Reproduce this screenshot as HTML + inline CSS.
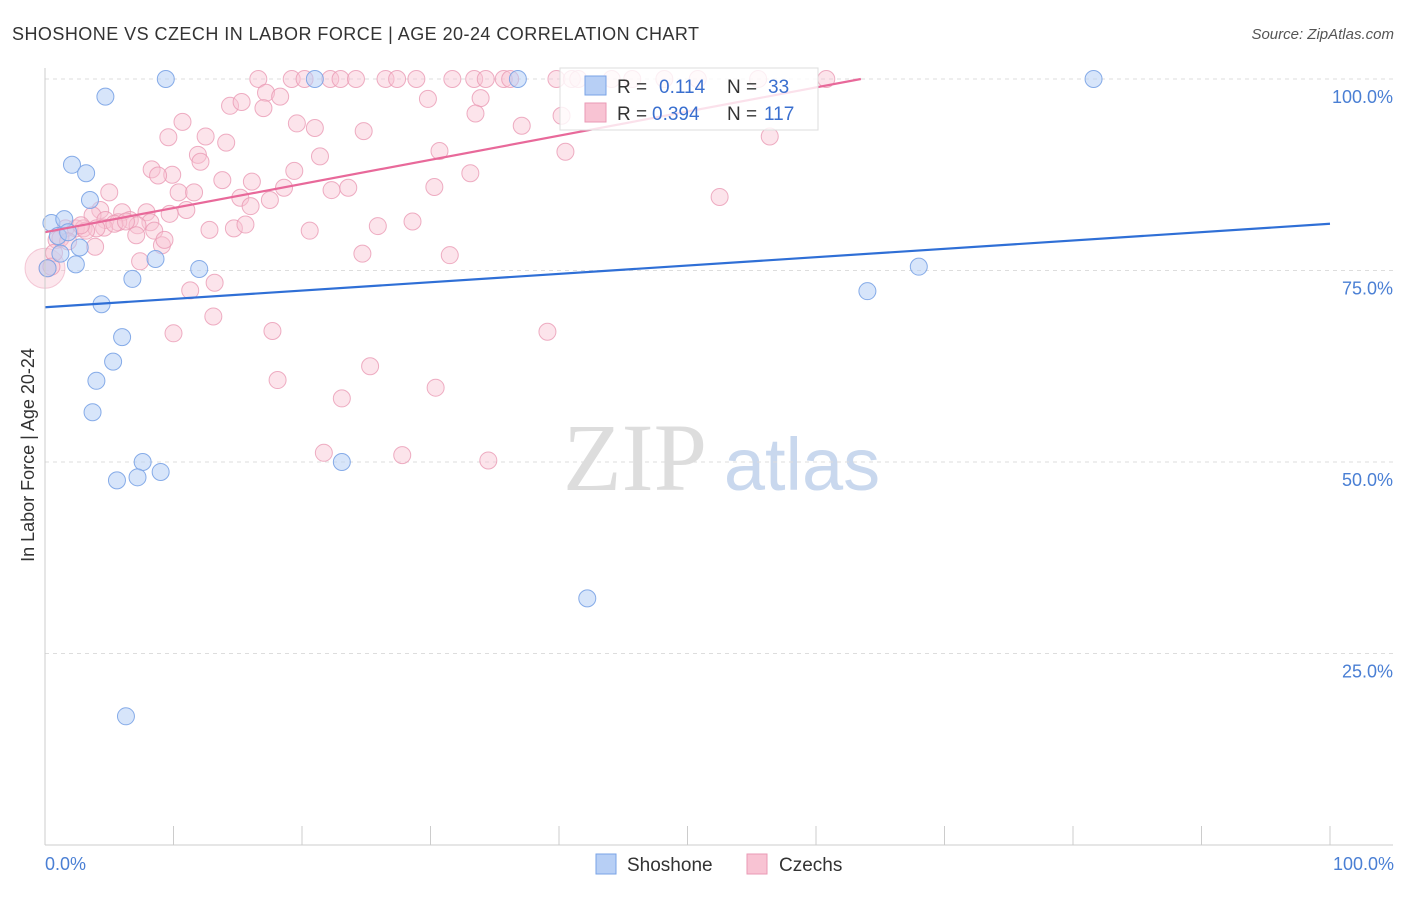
<!DOCTYPE html>
<html><head><meta charset="utf-8"><style>
body{margin:0;background:#fff;font-family:"Liberation Sans",sans-serif;}
</style></head><body>
<svg id="c" width="1406" height="892" xmlns="http://www.w3.org/2000/svg">
<text x="12" y="40" font-size="18" fill="#333" textLength="687">SHOSHONE VS CZECH IN LABOR FORCE | AGE 20-24 CORRELATION CHART</text>
<text x="1394" y="39" font-size="15" fill="#555" font-style="italic" text-anchor="end">Source: ZipAtlas.com</text>
<text x="34" y="455" font-size="18" fill="#333" transform="rotate(-90 34 455)" text-anchor="middle">In Labor Force | Age 20-24</text>
<text x="635" y="490" font-size="96" fill="#ddd" font-family="Liberation Serif,serif" text-anchor="middle">ZIP</text>
<text x="802" y="490" font-size="74" fill="#c9d8ee" text-anchor="middle">atlas</text>
<g id="grid"></g><g id="pts"></g><g id="lines"></g>
<line x1="45" y1="68" x2="45" y2="845" stroke="#ccc"/>
<line x1="45" y1="845" x2="1393" y2="845" stroke="#ccc"/>
<text x="45" y="870" font-size="18" fill="#4a7fd4">0.0%</text>
<text x="1394" y="870" font-size="18" fill="#4a7fd4" text-anchor="end">100.0%</text>
<g>
<rect x="560" y="68" width="258" height="62" fill="#fff" fill-opacity="0.8" stroke="#ddd"/>
<rect x="585" y="76" width="21" height="19" fill="#b7cff5" stroke="#7aa3e6"/>
<rect x="585" y="103" width="21" height="19" fill="#f8c3d3" stroke="#ea9ab4"/>
<text x="617" y="93" font-size="19" fill="#333">R = <tspan fill="#3a6fcf" x="659">0.114</tspan><tspan fill="#333" x="727">N = </tspan><tspan fill="#3a6fcf" x="768">33</tspan></text>
<text x="617" y="120" font-size="19" fill="#333">R = <tspan fill="#3a6fcf" x="652">0.394</tspan><tspan fill="#333" x="727">N = </tspan><tspan fill="#3a6fcf" x="764">117</tspan></text>
</g>
<g>
<rect x="596" y="854" width="20" height="20" fill="#b7cff5" stroke="#7aa3e6"/>
<text x="627" y="871" font-size="19" fill="#333">Shoshone</text>
<rect x="747" y="854" width="20" height="20" fill="#f8c3d3" stroke="#ea9ab4"/>
<text x="779" y="871" font-size="19" fill="#333">Czechs</text>
</g>
</svg>
<script>
const yTicks=[25,50,75,100];
const yTickLabels=["25.0%","50.0%","75.0%","100.0%"];
const shoshoneX=[9.4,21,36.8,81.6,4.7,2.1,3.2,3.5,0.5,1.5,1,1.8,1.2,2.4,0.2,2.7,6.8,8.6,12,4.4,6,5.3,4,3.7,7.6,9,5.6,7.2,23.1,42.2,6.3,64,68];
const shoshoneY=[100,100,100,100,97.7,88.8,87.7,84.2,81.2,81.7,79.5,80,77.2,75.8,75.3,78,73.9,76.5,75.2,70.6,66.3,63.1,60.6,56.5,50,48.7,47.6,48,50,32.2,16.8,72.3,75.5];
const czechX=[16.6,19.2,20.2,22.2,23,24.2,26.5,27.4,28.9,31.7,33.4,34.3,35.7,36.2,39.8,41,41.5,44.1,45.7,48.2,50.8,55.5,60.8,17.2,18.3,29.8,33.9,14.4,15.3,17,33.5,40.2,10.7,19.6,21,24.8,37.1,12.5,9.6,14.1,11.9,12.1,21.4,30.7,40.5,56.4,8.3,9.9,8.8,19.4,33.1,13.8,16.1,5,10.4,11.6,18.6,22.3,23.6,30.3,52.5,15.2,17.5,16,4.3,6,7.9,11,9.7,3.7,4.7,6.6,8.2,5.7,7.2,4.6,1.6,2.4,3,4,3.2,5.4,6.3,12.8,14.7,15.6,20.6,25.9,28.6,8.5,7.1,0.9,9.1,0.7,24.7,31.5,0.2,11.3,13.2,10,17.7,39.1,18.1,25.3,30.4,23.1,21.7,27.8,34.5,1.2,2.8,3.9,1.8,0.5,13.1,7.4,9.3];
const czechY=[100,100,100,100,100,100,100,100,100,100,100,100,100,100,100,100,100,100,100,100,100,100,100,98.2,97.7,97.4,97.5,96.5,97,96.2,95.5,95.2,94.4,94.2,93.6,93.2,93.9,92.5,92.4,91.7,90.1,89.2,89.9,90.6,90.5,92.5,88.2,87.5,87.4,88,87.7,86.8,86.6,85.2,85.2,85.2,85.8,85.5,85.8,85.9,84.6,84.5,84.2,83.4,82.9,82.6,82.6,82.9,82.4,82.2,81.6,81.6,81.3,81.3,80.9,80.6,80.5,80.5,80.5,80.5,80.2,81.1,81.4,80.3,80.5,81,80.2,80.8,81.4,80.2,79.6,79,78.3,77.3,77.2,77,75.3,72.4,73.4,66.8,67.1,67,60.7,62.5,59.7,58.3,51.2,50.9,50.2,79.2,80.9,78.1,78.8,75.5,69,76.2,79];
const shoshoneTrend=[70.2,81.1];
const czechTrend=[80,111.5];
const X0=45,X1=1330,Y0=845,Y100=79;
const sx=v=>X0+(X1-X0)*v/100, sy=v=>Y0-(Y0-Y100)*v/100;
const NS="http://www.w3.org/2000/svg";
function mk(t,a,p){const e=document.createElementNS(NS,t);for(const k in a)e.setAttribute(k,a[k]);p.appendChild(e);return e;}
const g=document.getElementById('grid');
yTicks.forEach((t,i)=>{
 const l=mk('line',{x1:45,x2:1393,y1:sy(t),y2:sy(t),stroke:'#ddd','stroke-dasharray':'4,4'},g);
 
 
 const tx=mk('text',{x:1393,y:sy(t)+24,'font-size':18,fill:'#4a7fd4','text-anchor':'end'},g);
 tx.textContent=yTickLabels[i];
 
 
});
for(let i=0;i<=10;i++){
 const l=mk('line',{x1:sx(i*10),x2:sx(i*10),y1:826,y2:845,stroke:'#ccc'},g);
 
 
}
const p=document.getElementById('pts');
const big=mk('circle',{cx:sx(0),cy:sy(75.3),r:20,fill:'#f8c3d3','fill-opacity':0.4,stroke:'#ea9ab4','stroke-opacity':0.5},p);


czechX.forEach((x,i)=>{
 const c=mk('circle',{cx:sx(x),cy:sy(czechY[i]),r:8.5,fill:'#f8c3d3','fill-opacity':0.45,stroke:'#ea9ab4','stroke-opacity':0.8},p);
 
 
});
shoshoneX.forEach((x,i)=>{
 const c=mk('circle',{cx:sx(x),cy:sy(shoshoneY[i]),r:8.5,fill:'#b7cff5','fill-opacity':0.55,stroke:'#7aa3e6','stroke-opacity':0.9},p);
 
 
});
const L=document.getElementById('lines');
const bl=mk('line',{x1:sx(0),y1:sy(shoshoneTrend[0]),x2:sx(100),y2:sy(shoshoneTrend[1]),stroke:'#2f6fd6','stroke-width':2.2},L);


const xe=(100-czechTrend[0])/(czechTrend[1]-czechTrend[0])*100;
const pl=mk('line',{x1:sx(0),y1:sy(czechTrend[0]),x2:sx(xe),y2:sy(100),stroke:'#e8699a','stroke-width':2.2},L);


</script>
</body></html>
